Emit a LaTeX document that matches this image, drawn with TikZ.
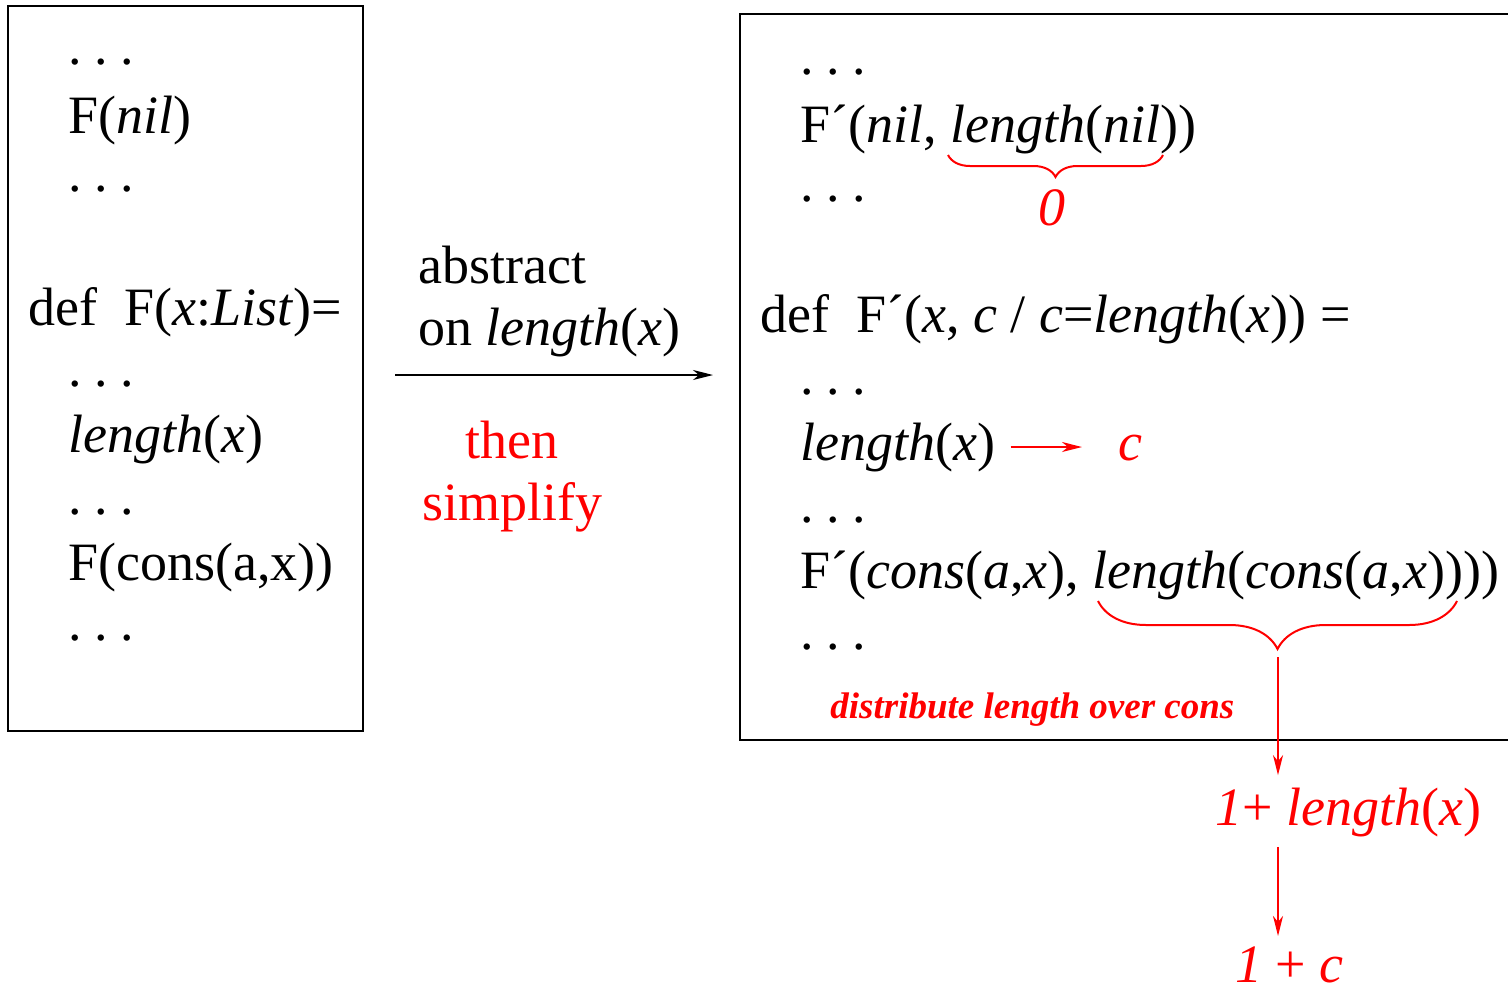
\documentclass[tikz,border=0pt]{standalone}
\usepackage{fontspec}
\setmainfont{Liberation Serif}
\usetikzlibrary{arrows.meta,decorations.pathreplacing}
\newcommand\gapdots{.\kern.23em.\kern.23em.}

\begin{document}
\begin{tikzpicture}[x=0.5pt,y=-0.5pt,
  every node/.style={anchor=base west,inner sep=0pt,font=\fontsize{27}{32}\selectfont},
  hint/.style={text=red},
  centred/.style={anchor=base},
  smallnote/.style={font=\fontsize{18.5}{22}\selectfont\bfseries\itshape},
  frame/.style={line width=1pt},
  arr/.style={line width=1pt,-{Stealth[length=10pt,width=5pt,inset=3pt]}},
  redarr/.style={arr,red},
  brc/.style={red,line width=1pt,decorate,decoration={brace,mirror,amplitude=#1}}]
\useasboundingbox (0,0) rectangle (1508,991);
% original program
\draw[frame] (8,6) rectangle (363,731);
\node (ldots1) at (68,64) {\gapdots};
\node (lnil) at (68,133) {F(\textit{nil})};
\node (ldots2) at (68,191) {\gapdots};
\node (ldef) at (28,325) {def~~F(\textit{x}:\textit{List})=};
\node (ldots3) at (68,386) {\gapdots};
\node (llen) at (68,452) {\textit{length}(\textit{x})};
\node (ldots4) at (68,514) {\gapdots};
\node (lcons) at (68,580) {F(cons(a,x))};
\node (ldots5) at (68,640) {\gapdots};
% transformation
\coordinate (tfrom) at (395,375);
\coordinate (tto) at (713,375);
\draw[arr] (tfrom) -- (tto);
\node (abs) at (418,283) {abstract};
\node (abson) at (418,345) {on \textit{length}(\textit{x})};
\node[hint,centred] (then) at (512,458) {then};
\node[hint,centred] (simp) at (512,520) {simplify};
% abstracted program
\draw[frame] (740,14) rectangle (1516,740);
\node (rdots1) at (800,74) {\gapdots};
\node (rnil) at (800,142) {F´(\textit{nil}, \textit{length}(\textit{nil}))};
\node (rdots2) at (800,201) {\gapdots};
\node[hint,centred] (rzero) at (1052,225) {\textit{0}};
\node (rdef) at (760,332) {def~~F´(\textit{x}, \textit{c} / \textit{c}=\textit{length}(\textit{x})) =};
\node (rdots3) at (800,394) {\gapdots};
\node (rlen) at (800,460) {\textit{length}(\textit{x})};
\node[hint] (rc) at (1118,460) {\textit{c}};
\node (rdots4) at (800,522) {\gapdots};
\node (rcons) at (800,588) {F´(\textit{cons}(\textit{a},\textit{x}), \textit{length}(\textit{cons}(\textit{a},\textit{x}))))};
\node (rdots5) at (800,649) {\gapdots};
\node[hint,smallnote] (rdist) at (830,718) {distribute length over cons};
\node[hint] (onelen) at (1215,825) {\textit{1}+ \textit{length}(\textit{x})};
\node[hint] (onec) at (1235,982) {\textit{1} + \textit{c}};
% braces and simplification steps
\coordinate (b1a) at (948,155);
\coordinate (b1b) at (1163,155);
\draw[brc=11pt] (b1a) -- (b1b);
\coordinate (b2a) at (1098,601);
\coordinate (b2b) at (1457,601);
\draw[brc=24pt] (b2a) -- (b2b);
\coordinate (tip) at (1278,657);
\draw[redarr,shorten <=7.5pt,shorten >=18pt] (rlen.east) -- (rlen.east -| rc.west);
\draw[redarr,shorten >=6pt] (tip) -- (tip |- onelen.north);
\draw[redarr,shorten <=5pt,shorten >=5pt] (tip |- onelen.south) -- (tip |- onec.north);
\end{tikzpicture}
\end{document}
